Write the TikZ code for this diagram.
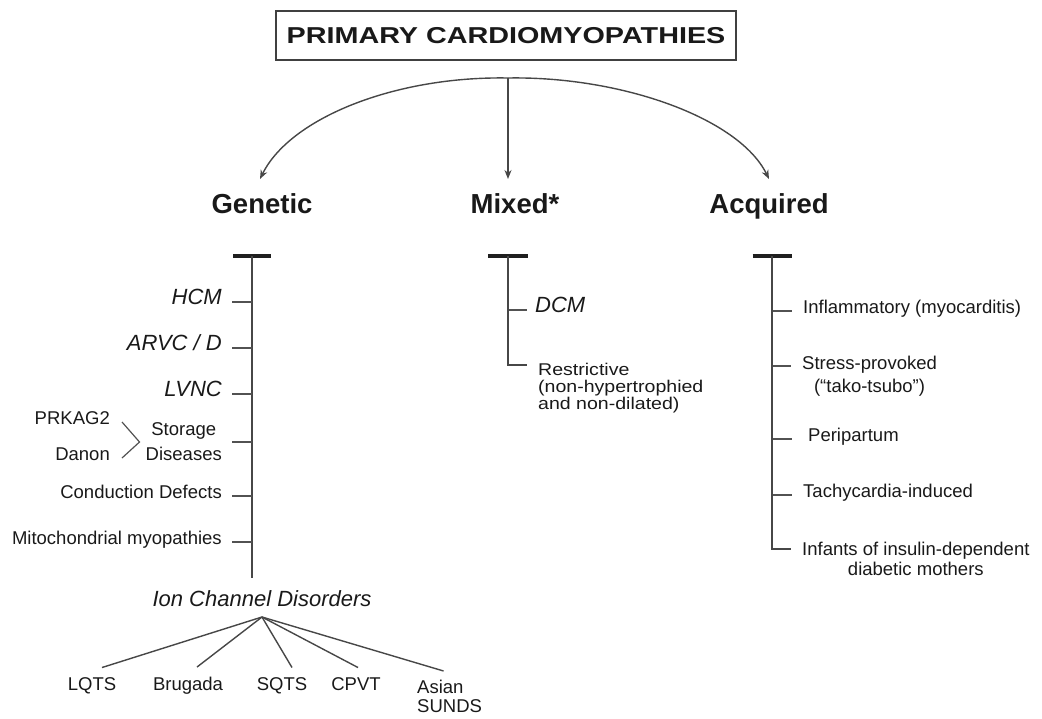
\documentclass[tikz,border=0pt]{standalone}
\usepackage{fontspec}
\setmainfont{Liberation Sans}
\newfontfamily\widefont[FakeStretch=1.25]{Liberation Sans}
\newfontfamily\midfont[FakeStretch=1.15]{Liberation Sans}
\usepackage{tikz}
\usetikzlibrary{arrows.meta}
\tikzset{every node/.append style={font=\fontsize{18.5}{22}\selectfont, inner sep=0pt, text=black!90}}
\tikzset{
  group/.style={font=\fontsize{27.5}{30}\selectfont\bfseries},
  disease/.style={font=\fontsize{22}{26}\selectfont\itshape},
  stem/.style={line width=1.4pt, draw=black!72},
  tick/.style={line width=1.2pt, draw=black!68},
  tbar/.style={line width=3.6pt, draw=black!88},
}

\begin{document}
\begin{tikzpicture}[x=1pt, y=-1pt, >={Stealth[length=9pt, width=7pt]}]
    \useasboundingbox (0,0) rectangle (1042,718);
    \node[draw=black!75, line width=1.4pt, minimum width=460pt, minimum height=49pt, font=\fontsize{23}{25}\widefont\bfseries] (primary) at (506,35.5) {PRIMARY CARDIOMYOPATHIES};
    \node[group, anchor=base] (genetic) at (262,213) {Genetic};
    \node[group, anchor=base] (mixed) at (515,213) {Mixed*};
    \node[group, anchor=base] (acquired) at (769,213) {Acquired};
    % the split into three groups
    \coordinate (split) at (508,78);
    \coordinate (gtip) at (260,179);
    \coordinate (mtip) at (508,179);
    \coordinate (atip) at (769,179);
    \draw[stem, ->] (split) .. controls (395,76) and (290,118) .. (gtip);
    \draw[stem, ->] (split) -- (mtip);
    \draw[stem, ->] (split) .. controls (621,76) and (739,118) .. (atip);

    % genetic
    \coordinate (gtop) at (252,256);
    \coordinate (gend) at (252,578);
    \draw[tbar] ([xshift=-19pt]gtop) -- ([xshift=19pt]gtop);
    \draw[stem] (gtop) -- (gend);
    \node[disease, anchor=mid east] (hcm) at (222,302) {HCM};
    \node[disease, anchor=mid east] (arvc) at (222,348) {ARVC / D};
    \node[disease, anchor=mid east] (lvnc) at (222,394) {LVNC};
    \node[anchor=east, align=center, font=\fontsize{18.5}{25}\selectfont] (storage) at (222,442) {Storage\\Diseases};
    \node[anchor=mid east] (conduction) at (222,496) {Conduction Defects};
    \node[anchor=mid east] (mito) at (222,542) {Mitochondrial myopathies};
    \draw[tick] ([xshift=10pt]hcm.mid east) -- (hcm.mid east -| gtop);
    \draw[tick] ([xshift=10pt]arvc.mid east) -- (arvc.mid east -| gtop);
    \draw[tick] ([xshift=10pt]lvnc.mid east) -- (lvnc.mid east -| gtop);
    \draw[tick] ([xshift=10pt]storage.east) -- (storage.east -| gtop);
    \draw[tick] ([xshift=10pt]conduction.mid east) -- (conduction.mid east -| gtop);
    \draw[tick] ([xshift=10pt]mito.mid east) -- (mito.mid east -| gtop);
    \node[anchor=mid east] (prkag) at (110,422) {PRKAG2};
    \node[anchor=mid east] (danon) at (110,458) {Danon};
    \draw[tick] ([xshift=12pt]prkag.mid east) -- ([xshift=-6pt]storage.west) -- ([xshift=12pt]danon.mid east);

    % ion channels
    \node[disease] (ion) at (262,599) {Ion Channel Disorders};
    \coordinate (fan) at (262,617);
    \node[anchor=mid] (lqts) at (92,688) {LQTS};
    \node[anchor=mid] (brugada) at (188,688) {Brugada};
    \node[anchor=mid] (sqts) at (282,688) {SQTS};
    \node[anchor=mid] (cpvt) at (356,688) {CPVT};
    \node[anchor=north west, align=left, font=\fontsize{18.5}{18.5}\selectfont] (sunds) at (417,680) {Asian\\SUNDS};
    \draw[stem] (fan) -- ([xshift=10pt, yshift=10pt]lqts.north);
    \draw[stem] (fan) -- ([xshift=9pt, yshift=10pt]brugada.north);
    \draw[stem] (fan) -- ([xshift=10pt, yshift=10pt]sqts.north);
    \draw[stem] (fan) -- ([xshift=2pt, yshift=10pt]cpvt.north);
    \draw[stem] (fan) -- ([xshift=-6pt, yshift=9pt]sunds.north);

    % mixed
    \coordinate (mtop) at (508,256);
    \draw[tbar] ([xshift=-20pt]mtop) -- ([xshift=20pt]mtop);
    \node[disease, anchor=mid west] (dcm) at (535,310) {DCM};
    \node[anchor=north west, align=left, font=\fontsize{17}{16.8}\midfont] (restrictive) at (538,363) {Restrictive\\(non-hypertrophied\\and non-dilated)};
    \draw[tick] (dcm.mid west -| mtop) -- ([xshift=-8pt]dcm.mid west);
    \draw[stem] (mtop) |- ([xshift=-11pt, yshift=-2pt]restrictive.north west);

    % acquired
    \coordinate (atop) at (772,256);
    \draw[tbar] ([xshift=-19.5pt]atop) -- ([xshift=19.5pt]atop);
    \node[anchor=mid west] (inflam) at (803,311) {Inflammatory (myocarditis)};
    \node[anchor=north west, align=center, font=\fontsize{18.5}{23}\selectfont] (stress) at (802,356) {Stress-provoked\\(“tako-tsubo”)};
    \node[anchor=mid west] (peri) at (808,439) {Peripartum};
    \node[anchor=mid west] (tachy) at (803,495) {Tachycardia-induced};
    \node[anchor=north west, align=center, font=\fontsize{18.5}{20}\selectfont] (infants) at (802,542) {Infants of insulin-dependent\\diabetic mothers};
    \coordinate (stressY) at ([yshift=-10pt]stress.north west);
    \draw[tick] (inflam.mid west -| atop) -- ([xshift=-11pt]inflam.mid west);
    \draw[tick] (stressY -| atop) -- ([xshift=-11pt]stressY);
    \draw[tick] (peri.mid west -| atop) -- ([xshift=-16pt]peri.mid west);
    \draw[tick] (tachy.mid west -| atop) -- ([xshift=-11pt]tachy.mid west);
    \draw[stem] (atop) |- ([xshift=-11pt, yshift=-7pt]infants.north west);
\end{tikzpicture}
\end{document}
